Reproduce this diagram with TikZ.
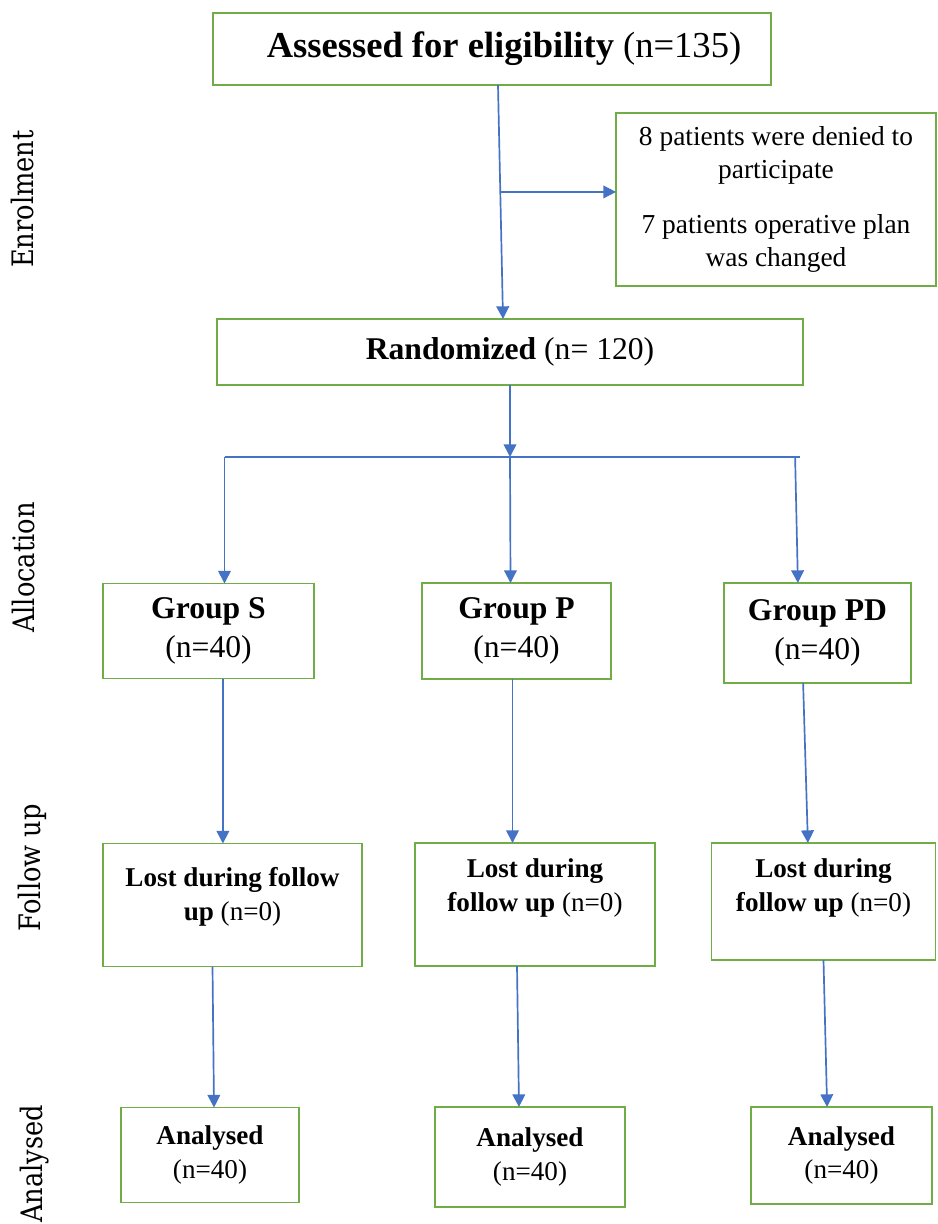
\documentclass[tikz,border=0pt]{standalone}
\usepackage{fontspec}
\setmainfont{Liberation Serif}
\newfontfamily\phasefont{DejaVu Serif}[FakeStretch=0.87]
\usetikzlibrary{positioning,arrows.meta,calc}
\definecolor{boxgreen}{HTML}{70AD47}
\definecolor{arrowblue}{HTML}{4472C4}
\begin{document}
\begin{tikzpicture}[auto, >={Triangle[width=9pt,length=9pt]},
  box/.style={rectangle, draw=boxgreen, line width=1.4pt, outer sep=0pt, align=center},
  txt/.style={align=center, font=\fontsize{19.3}{24}\selectfont},
  grp/.style={box, font=\fontsize{22.5}{27.7}\selectfont},
  small/.style={box, font=\fontsize{19.3}{24}\selectfont},
  link/.style={->, draw=arrowblue, line width=1.2pt},
  phase/.style={rotate=90, anchor=base, font=\phasefont\fontsize{21}{24}\selectfont}]
\useasboundingbox (0,0) rectangle (23.45,-30.6);
\node (1) [box, minimum width=13.95cm, minimum height=1.8cm, font=\fontsize{26}{31}\selectfont] at (12.3,-1.225) {\hspace*{0.6cm}\textbf{Assessed for eligibility} (n=135)};
\node (2) [small, below=0.7cm of 1, xshift=7.1cm, minimum width=8cm, minimum height=4.325cm, font=\fontsize{19.5}{23.5}\selectfont] {8 patients were denied to\\participate\\[15pt]7 patients operative plan\\was changed};
\node (3) [grp, below=5.85cm of 1, xshift=0.45cm, minimum width=14.65cm, minimum height=1.65cm] {\textbf{Randomized} (n= 120)};
\node (5) [grp, below=4.95cm of 3, xshift=0.1625cm, minimum width=4.725cm, minimum height=2.4cm] {\textbf{Group P}\\(n=40)};
\node (4) [grp, left=2.7cm of 5, minimum width=5.275cm, minimum height=2.375cm] {\textbf{Group S}\\(n=40)};
\node (6) [grp, right=2.825cm of 5, yshift=-0.05cm, minimum width=4.675cm, minimum height=2.5cm] {\textbf{Group PD}\\(n=40)};
\node (7) [small, below=4.125cm of 4, xshift=0.6cm, minimum width=6.475cm, minimum height=3.075cm] {};
\node (8) [small, below=4.1cm of 5, xshift=0.4625cm, minimum width=6cm, minimum height=3.075cm] {};
\node (9) [small, below=4cm of 6, xshift=0.15cm, minimum width=5.6cm, minimum height=2.925cm] {};
\node (7t) [txt, yshift=0.21cm] at (7) {\textbf{Lost during follow}\\\textbf{up} (n=0)};
\node (8t) [txt, yshift=0.41cm] at (8) {\textbf{Lost during}\\\textbf{follow up} (n=0)};
\node (9t) [txt, yshift=0.34cm] at (9) {\textbf{Lost during}\\\textbf{follow up} (n=0)};
\node (10) [small, below=3.525cm of 7, xshift=-0.5625cm, minimum width=4.45cm, minimum height=2.375cm] {\textbf{Analysed}\\(n=40)};
\node (11) [small, below=3.525cm of 8, xshift=-0.125cm, minimum width=4.75cm, minimum height=2.5cm] {\textbf{Analysed}\\(n=40)};
\node (12) [small, below=3.675cm of 9, xshift=0.45cm, minimum width=4.525cm, minimum height=2.425cm] {\textbf{Analysed}\\(n=40)};
% phases
\node (e) [phase] at (0.825,-4.975) {Enrolment};
\node (a) [phase] at (0.875,-14.19) {Allocation};
\node (f) [phase] at (1.0,-21.69) {Follow up};
\node (an) [phase] at (1.05,-29.1) {Analysed};
% connectors
\draw[link] ([xshift=0.15cm]1.south) -- ([xshift=-0.175cm]3.north);
\coordinate (b) at ($([xshift=0.15cm]1.south)!0.457!([xshift=-0.175cm]3.north)$);
\draw[link] (b) -- (b -| 2.west);
\coordinate (s) at ($(3.south)+(0,-1.8cm)$);
\draw[link] (3) -- (s);
\draw[arrowblue, line width=1.2pt] ([xshift=0.4cm]4.north |- s) -- ([xshift=-0.45cm]6.north |- s);
\draw[link] ([xshift=0.4cm]4.north |- s) -- ([xshift=0.4cm]4.north);
\draw[link] (s) -- ([xshift=-0.15cm]5.north);
\draw[link] ([xshift=-0.56cm]6.north |- s) -- ([xshift=-0.49cm]6.north);
\draw[link] ([xshift=0.36cm]4.south) -- ([xshift=0.36cm]4.south |- 7.north);
\draw[link] ([xshift=-0.1cm]5.south) -- ([xshift=-0.1cm]5.south |- 8.north);
\draw[link] ([xshift=-0.36cm]6.south) -- ([xshift=-0.39cm]9.north);
\draw[link] ([xshift=-0.5cm]7.south) -- ([xshift=0.1cm]10.north);
\draw[link] ([xshift=-0.45cm]8.south) -- ([xshift=-0.275cm]11.north);
\draw[link] (9.south) -- ([xshift=-0.36cm]12.north);
\end{tikzpicture}
\end{document}
